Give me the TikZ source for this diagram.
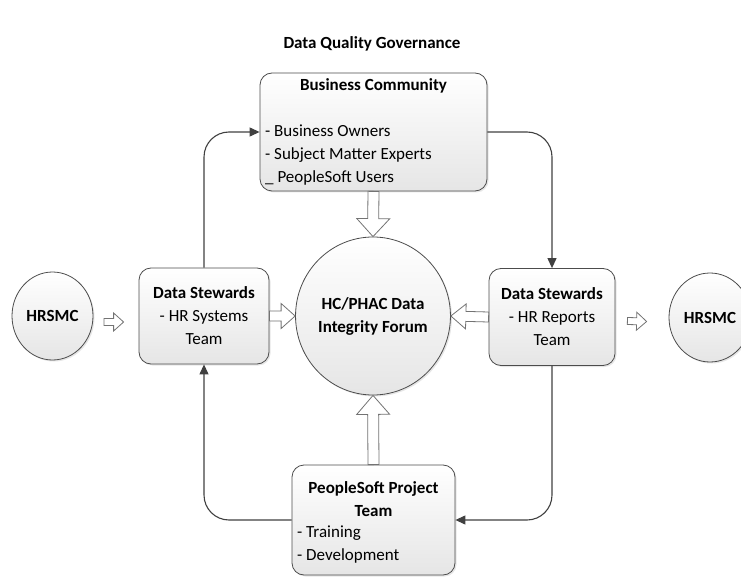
\documentclass[tikz,border=0pt]{standalone}
\usepackage{fontspec}
\setmainfont{Carlito}
\usetikzlibrary{calc,arrows.meta,shapes.geometric,shadows}
\newcommand\fsz{\fontsize{17}{23}\selectfont}
\tikzset{
 box/.style={draw=black!70, line width=0.8pt, rounded corners=12pt, top color=white, bottom color=black!10,
   drop shadow={opacity=0.2, shadow xshift=1.5pt, shadow yshift=-1.5pt}, font=\fsz, align=center, inner sep=0pt},
 oval/.style={ellipse, draw=black!70, line width=0.8pt, top color=white, bottom color=black!10,
   drop shadow={opacity=0.2, shadow xshift=1.5pt, shadow yshift=-1.5pt}, font=\fsz\bfseries, align=center, inner sep=0pt},
 conn/.style={draw=black!75, line width=1.1pt, rounded corners=25pt, -{Triangle[length=10pt,width=9pt]}},
 fat/.style={draw=black!55, line width=0.8pt, fill=white},
 lbl/.style={font=\fsz, align=left, inner sep=0pt},
 ttl/.style={font=\fsz\bfseries, align=center, inner sep=0pt},
}
% hollow block arrow from #1 to #2: shaft half width #3, head half width #4, head length #5
\newcommand\fatarr[5]{%
\draw[fat] let \p1=(#1), \p2=(#2),
 \n1={veclen(\x2-\x1,\y2-\y1)}, \n2={(\x2-\x1)/\n1}, \n3={(\y2-\y1)/\n1}, \n4={\n1-(#5)} in
 ({\x1-\n3*(#3)},{\y1+\n2*(#3)}) --
 ({\x1+\n2*\n4-\n3*(#3)},{\y1+\n3*\n4+\n2*(#3)}) --
 ({\x1+\n2*\n4-\n3*(#4)},{\y1+\n3*\n4+\n2*(#4)}) --
 (\p2) --
 ({\x1+\n2*\n4+\n3*(#4)},{\y1+\n3*\n4-\n2*(#4)}) --
 ({\x1+\n2*\n4+\n3*(#3)},{\y1+\n3*\n4-\n2*(#3)}) --
 ({\x1+\n3*(#3)},{\y1-\n2*(#3)}) -- cycle;}
\begin{document}
\begin{tikzpicture}[x=1pt,y=1pt]
\useasboundingbox (0,0) rectangle (741,-577);
\node[ttl] (title) at (372,-44) {Data Quality Governance};

\node[box, minimum width=227pt, minimum height=118pt] (bc) at (373.5,-132) {};
\node[ttl] (bctitle) at (373.5,-86) {Business Community};
\node[lbl, anchor=west] (bclist) at (265,-155) {- Business Owners\\- Subject Matter Experts\\\_ PeopleSoft Users};

\node[oval, minimum width=136pt, minimum height=158pt] (forum) at (373,-316) {HC/PHAC Data\\Integrity Forum};
\node[box, minimum width=130pt, minimum height=96pt] (dsl) at (204,-316) {\textbf{Data Stewards}\\- HR Systems\\Team};
\node[box, minimum width=126pt, minimum height=97pt] (dsr) at (552,-317) {\textbf{Data Stewards}\\- HR Reports\\Team};
\node[oval, minimum width=81pt, minimum height=88pt] (hl) at (52.5,-316) {HRSMC};
\node[oval, minimum width=82pt, minimum height=89pt] (hr) at (710,-317.5) {HRSMC};

\node[box, minimum width=163pt, minimum height=110pt] (ps) at (373.5,-520) {};
\node[ttl] (pstitle) at (373.5,-499) {PeopleSoft Project\\Team};
\node[lbl, anchor=west] (pslist) at (297,-544.5) {- Training\\- Development};

\coordinate (s1) at ($(hl.east)+(10.5,-6)$);
\coordinate (e1) at ($(dsl.west)+(-15,-6)$);
\coordinate (s2) at ($(dsr.east)+(12,-4)$);
\coordinate (e2) at ($(hr.west)+(-22,-4)$);

\fatarr{bc.south}{forum.north}{5.5}{16.5}{18}
\fatarr{ps.north}{forum.south}{5.5}{16.5}{19}
\fatarr{dsl.east}{forum.west}{5}{12.5}{14}
\fatarr{dsr.west}{forum.east}{5}{12.5}{15}
\fatarr{s1}{e1}{3.5}{9}{10}
\fatarr{s2}{e2}{3.5}{9}{10}

\draw[conn] (dsl.north) |- (bc.west);
\draw[conn] (bc.east) -| (dsr.north);
\draw[conn] (dsr.south) |- (ps.east);
\draw[conn] (ps.west) -| (dsl.south);
\end{tikzpicture}
\end{document}
